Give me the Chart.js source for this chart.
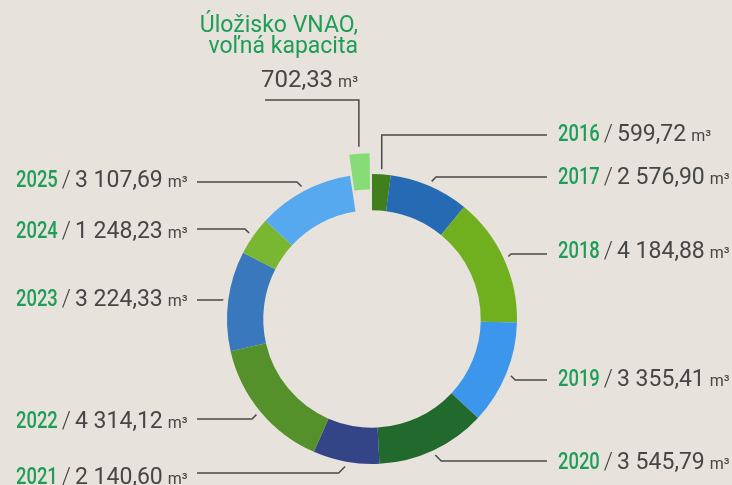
<!DOCTYPE html>
<html>
<head>
<meta charset="utf-8">
<script src="https://cdn.jsdelivr.net/npm/chart.js@4.4.1/dist/chart.umd.min.js"></script>
<style>
  html, body { margin: 0; padding: 0; background: #e7e3dc; }
  #wrap { width: 732px; height: 485px; position: relative; }
</style>
</head>
<body>
<div id="wrap"><canvas id="myChart"></canvas></div>
<script>
// data
const years = ['2016', '2017', '2018', '2019', '2020', '2021', '2022', '2023', '2024', '2025'];
const volumes = [599.72, 2576.90, 4184.88, 3355.41, 3545.79, 2140.60, 4314.12, 3224.33, 1248.23, 3107.69];
const freeTitle = ['Úložisko VNAO,', 'voľná kapacita'];
const freeVolume = 702.33;
const unit = 'm³';

// styles
const sliceColors = ['#417e1c', '#256ab2', '#70b01e', '#3c97ec', '#22692e', '#334487', '#55912a', '#3a78bd', '#79b631', '#57a9ef'];
const freeColor = '#87dc78';
const greenText = '#1e9d56';
const greyText = '#464646';

// label layout (side, leader line y, text baseline y)
const labelSide = ['right', 'right', 'right', 'right', 'right', 'left', 'left', 'left', 'left', 'left'];
const labelLineY = [135, 177, 254, 380, 461, 473, 419, 300, 229, 182];
const labelTextY = [141, 184, 258, 386, 469, 484, 428, 306, 238, 187];

function fmt(v) {
    var parts = v.toFixed(2).split('.');
    return parts[0].replace(/\B(?=(\d{3})+(?!\d))/g, ' ') + ',' + parts[1];
}

// point just outside the arc at its middle angle (includes the offset shift)
function anchorOf(arc, gap) {
    var p = arc.getProps(['x', 'y', 'startAngle', 'endAngle', 'outerRadius', 'circumference']);
    var mid = (p.startAngle + p.endAngle) / 2;
    var off = (arc.options.offset || 0) / 4;
    var fix = 1 - Math.sin(Math.min(Math.PI, p.circumference || 0));
    var r = p.outerRadius + off + off * fix + gap;
    return { x: p.x + Math.cos(mid) * r, y: p.y + Math.sin(mid) * r };
}

function drawLabel(ctx, x, y, year, value) {
    ctx.textAlign = 'left';
    ctx.textBaseline = 'alphabetic';
    // condensed look for the year
    ctx.font = '500 23px Roboto';
    ctx.fillStyle = greenText;
    var yw = ctx.measureText(year).width * 0.8;
    ctx.save();
    ctx.translate(x, y);
    ctx.scale(0.8, 1);
    ctx.fillText(year, 0, 0);
    ctx.restore();
    x += yw + 4;
    ctx.font = '300 23px Roboto';
    ctx.fillStyle = greyText;
    ctx.fillText('/', x, y);
    x += ctx.measureText('/').width + 4;
    ctx.font = '400 23px Roboto';
    ctx.fillText(value, x, y);
    x += ctx.measureText(value).width + 5;
    ctx.font = '400 16px Roboto';
    ctx.fillText(unit, x, y);
}

const leaderPlugin = {
    id: 'leaders',
    afterDatasetsDraw: function(chart) {
        var ctx = chart.ctx;
        var arcs = chart.getDatasetMeta(0).data;
        ctx.save();
        ctx.strokeStyle = '#4a4a4a';
        ctx.lineWidth = 1.5;
        for (var i = 0; i < years.length; i++) {
            var a = anchorOf(arcs[i], 5);
            var ly = labelLineY[i];
            var dir = labelSide[i] === 'right' ? 1 : -1;
            var dy = Math.abs(ly - a.y);
            var ex = dy > 6.5 ? a.x : a.x + dir * dy;
            var endX = dir === 1 ? 547 : 197;
            ctx.beginPath();
            ctx.moveTo(a.x, a.y);
            ctx.lineTo(ex, ly);
            ctx.lineTo(endX, ly);
            ctx.stroke();
            drawLabel(ctx, dir === 1 ? 558 : 16, labelTextY[i], years[i], fmt(volumes[i]));
        }
        // free capacity
        var f = anchorOf(arcs[years.length], 7);
        ctx.beginPath();
        ctx.moveTo(f.x, f.y);
        ctx.lineTo(f.x, 100);
        ctx.lineTo(265, 100);
        ctx.stroke();

        ctx.textAlign = 'right';
        ctx.textBaseline = 'alphabetic';
        ctx.fillStyle = greenText;
        ctx.font = '400 23px Roboto';
        ctx.fillText(freeTitle[0], 358, 32);
        ctx.fillText(freeTitle[1], 358, 53);
        ctx.fillStyle = greyText;
        ctx.font = '400 16px Roboto';
        ctx.fillText(unit, 358, 87);
        var uw = ctx.measureText(unit).width;
        ctx.font = '400 24px Roboto';
        ctx.fillText(fmt(freeVolume), 358 - uw - 5, 87);
        ctx.restore();
    }
};

let myChart = document.getElementById('myChart').getContext('2d');
let doughnut = new Chart(myChart, {
    type: 'doughnut',
    data: {
        labels: years.concat([freeTitle.join(' ')]),
        datasets: [{
            data: volumes.concat([freeVolume]),
            backgroundColor: sliceColors.concat([freeColor]),
            borderWidth: 0,
            offset: volumes.map(function() { return 0; }).concat([45])
        }]
    },
    options: {
        responsive: true,
        maintainAspectRatio: false,
        animation: false,
        radius: 145,
        cutout: '75%',
        layout: {
            padding: { left: 12, right: 0, top: 153, bottom: 0 }
        },
        plugins: {
            legend: { display: false },
            tooltip: { enabled: false }
        },
        events: []
    },
    plugins: [leaderPlugin]
});
</script>
</body>
</html>
